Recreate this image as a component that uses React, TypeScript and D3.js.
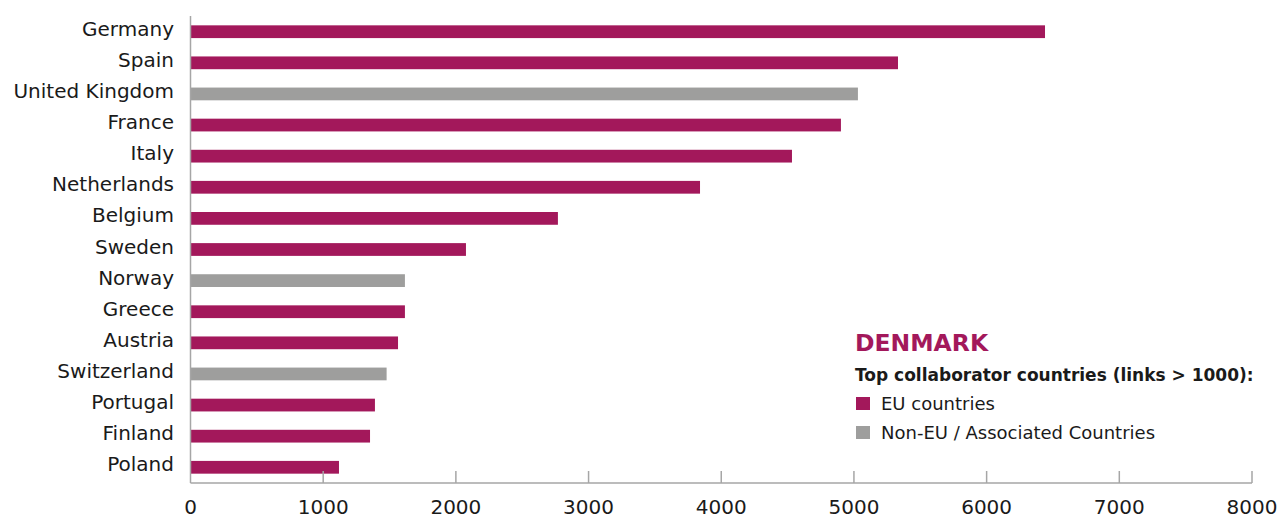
import React from "react";
import * as d3 from "d3";

const countries = [
  "Germany", "Spain", "United Kingdom", "France", "Italy", "Netherlands", "Belgium",
  "Sweden", "Norway", "Greece", "Austria", "Switzerland", "Portugal", "Finland", "Poland",
];
const links = [6440, 5332, 5030, 4902, 4533, 3840, 2769, 2076, 1616, 1616, 1564, 1478, 1390, 1353, 1119];
const group = ["EU", "EU", "NonEU", "EU", "EU", "EU", "EU", "EU", "NonEU", "EU", "EU", "NonEU", "EU", "EU", "EU"];
const ticks = [0, 1000, 2000, 3000, 4000, 5000, 6000, 7000, 8000];
const legendItems = [
  { key: "EU", label: "EU countries" },
  { key: "NonEU", label: "Non-EU / Associated Countries" },
];

const W = 1279;
const H = 523;
const FONT = "'DejaVu Sans', sans-serif";

const App = () => {
  const x = d3.scaleLinear().domain([0, 8000]).range([190.5, 1252]);
  const y = d3.scaleBand<string>().domain(countries).range([16, 483]).paddingInner(0.59).paddingOuter(0.3);
  const color = d3.scaleOrdinal<string, string>().domain(["EU", "NonEU"]).range(["#a3185b", "#9e9e9d"]);
  const axisY = 483;

  return (
    <svg width={W} height={H} style={{ position: "absolute", left: 0, top: 0 }}>
      {countries.map((c, i) => (
        <g key={c}>
          <rect
            x={x(0)}
            y={y(c)}
            width={x(links[i]) - x(0)}
            height={y.bandwidth()}
            fill={color(group[i])}
          />
          <text
            x={174}
            y={(y(c) as number) + y.bandwidth() / 2}
            dy="0.2em"
            textAnchor="end"
            fontFamily={FONT}
            fontSize={20}
            fill="#1a1a1a"
          >
            {c}
          </text>
        </g>
      ))}
      {/* axes */}
      <line x1={x(0)} x2={x(0)} y1={16} y2={axisY} stroke="#a6a6a6" strokeWidth={1.5} />
      <line x1={x(0)} x2={x(8000)} y1={axisY} y2={axisY} stroke="#a6a6a6" strokeWidth={1.5} />
      {ticks.map((t) => (
        <g key={t}>
          {t > 0 && (
            <line x1={x(t)} x2={x(t)} y1={axisY - 12} y2={axisY} stroke="#a6a6a6" strokeWidth={1.5} />
          )}
          <text
            x={x(t)}
            y={514}
            textAnchor="middle"
            fontFamily={FONT}
            fontSize={20}
            fill="#1a1a1a"
          >
            {t}
          </text>
        </g>
      ))}
      {/* legend */}
      <text x={855} y={351} fontFamily={FONT} fontWeight="bold" fontSize={23.5} fill="#a3185b">
        DENMARK
      </text>
      <text x={855} y={381} fontFamily={FONT} fontWeight="bold" fontSize={17} fill="#1a1a1a">
        Top collaborator countries (links &gt; 1000):
      </text>
      {legendItems.map((d, i) => (
        <g key={d.key} transform={`translate(856, ${397 + i * 29})`}>
          <rect x={0} y={0} width={14} height={13} fill={color(d.key)} />
          <text x={25} y={13} fontFamily={FONT} fontSize={18} fill="#1a1a1a">
            {d.label}
          </text>
        </g>
      ))}
    </svg>
  );
};

export default App;
